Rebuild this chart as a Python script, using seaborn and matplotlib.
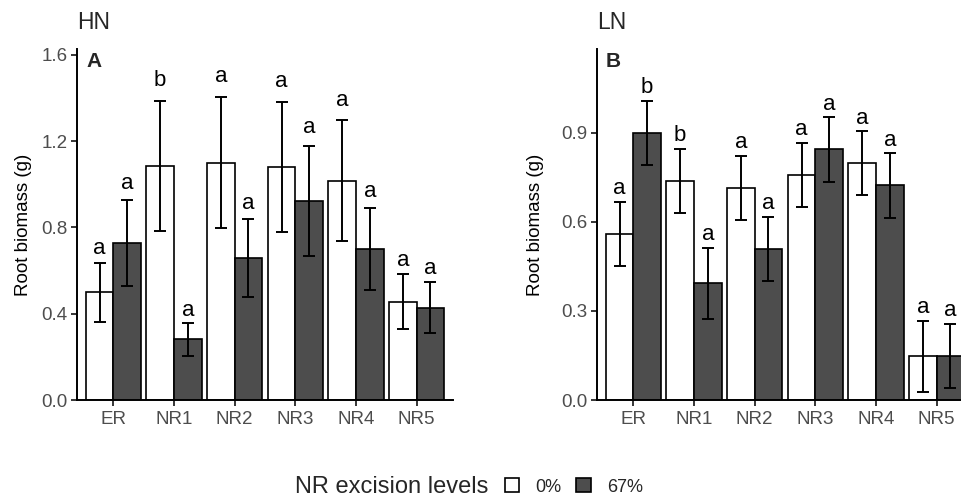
import pandas as pd
import matplotlib
matplotlib.use('Agg')
import matplotlib.pyplot as plt
from matplotlib.patches import Patch
import seaborn as sns

roots = ['ER', 'NR1', 'NR2', 'NR3', 'NR4', 'NR5']
levels = ['0%', '67%']

# HN panel
hn_mean_0 = [0.50, 1.085, 1.10, 1.08, 1.017, 0.456]
hn_se_0 = [0.137, 0.30, 0.305, 0.30, 0.28, 0.127]
hn_mean_67 = [0.728, 0.281, 0.659, 0.921, 0.702, 0.428]
hn_se_67 = [0.20, 0.078, 0.18, 0.255, 0.19, 0.117]
hn_letters_0 = ['a', 'b', 'a', 'a', 'a', 'a']
hn_letters_67 = ['a', 'a', 'a', 'a', 'a', 'a']

# LN panel
ln_mean_0 = [0.559, 0.737, 0.713, 0.757, 0.797, 0.147]
ln_se_0 = [0.108, 0.107, 0.108, 0.107, 0.107, 0.12]
ln_mean_67 = [0.898, 0.393, 0.507, 0.843, 0.722, 0.147]
ln_se_67 = [0.108, 0.12, 0.108, 0.108, 0.108, 0.108]
ln_letters_0 = ['a', 'b', 'a', 'a', 'a', 'a']
ln_letters_67 = ['b', 'a', 'a', 'a', 'a', 'a']

colors = {'0%': 'white', '67%': '#4D4D4D'}

sns.set_theme(style='ticks')
plt.rcParams['font.family'] = ['Liberation Sans', 'DejaVu Sans']


def make_df(m0, s0, m67, s67, l0, l67):
    return pd.DataFrame({
        'root': roots * 2,
        'level': ['0%'] * 6 + ['67%'] * 6,
        'mean': m0 + m67,
        'se': s0 + s67,
        'letter': l0 + l67,
    })


def draw_panel(ax, df, ymax, yticks, tag, off_a, off_b, label_x):
    sns.barplot(data=df, x='root', y='mean', hue='level', order=roots,
                hue_order=levels, palette=colors, edgecolor='black',
                linewidth=1.2, width=0.91, errorbar=None, ax=ax, legend=False)
    for cont, lev in zip(ax.containers, levels):
        sub = df[df['level'] == lev].set_index('root').loc[roots]
        xs = [b.get_x() + b.get_width() / 2 for b in cont]
        ax.errorbar(xs, sub['mean'], yerr=sub['se'], fmt='none', ecolor='black',
                    elinewidth=1.4, capsize=4.3, capthick=1.4, zorder=3)
        for x, m, s, let in zip(xs, sub['mean'], sub['se'], sub['letter']):
            top = m + s
            ax.text(x, top + off_a + off_b * top, let, ha='center', va='baseline',
                    fontsize=16, color='black')
    ax.set_xlim(-0.6, 5.6)
    ax.set_ylim(0, ymax)
    ax.set_yticks(yticks)
    ax.set_yticklabels([f'{t:.1f}' for t in yticks])
    ax.set_xlabel('')
    ax.set_ylabel('Root biomass (g)', fontsize=13.5, color='black')
    ax.yaxis.set_label_coords(label_x, 0.5)
    ax.tick_params(axis='both', labelsize=13.5, labelcolor='#4D4D4D', color='black',
                   length=4, width=1.1)
    ax.tick_params(axis='x', pad=4)
    ax.tick_params(axis='y', pad=3)
    sns.despine(ax=ax)
    for sp in ['left', 'bottom']:
        ax.spines[sp].set_linewidth(1.4)
        ax.spines[sp].set_color('black')
    ax.text(0.024, 0.949, tag, transform=ax.transAxes, fontsize=15,
            fontweight='bold', va='baseline', ha='left')


fig = plt.figure(figsize=(9.62, 4.98), dpi=100)
W, H = 962, 498
ax1 = fig.add_axes([77 / W, 98 / H, 376 / W, 351 / H])
ax2 = fig.add_axes([597 / W, 98 / H, 376 / W, 351 / H])

hn = make_df(hn_mean_0, hn_se_0, hn_mean_67, hn_se_67, hn_letters_0, hn_letters_67)
ln = make_df(ln_mean_0, ln_se_0, ln_mean_67, ln_se_67, ln_letters_0, ln_letters_67)

draw_panel(ax1, hn, 1.627, [0.0, 0.4, 0.8, 1.2, 1.6], 'A', 0.015, 0.04, -0.12)
draw_panel(ax2, ln, 1.181, [0.0, 0.3, 0.6, 0.9], 'B', 0.026, 0.0, -0.142)

fig.text(77 / W, 1 - 29 / H, 'HN', fontsize=16.5, va='baseline', ha='left')
fig.text(597 / W, 1 - 29 / H, 'LN', fontsize=16.5, va='baseline', ha='left')

# legend at bottom
fig.text(295 / W, 5 / H, 'NR excision levels', fontsize=17, va='baseline', ha='left')
handles = [Patch(facecolor=colors[l], edgecolor='black', linewidth=1.2) for l in levels]
fig.legend(handles, levels, loc='center left', bbox_to_anchor=(505 / W, 11 / H),
           ncol=2, frameon=False, fontsize=13, handlelength=0.8, handleheight=0.8,
           handletextpad=0.9, columnspacing=0.8, borderpad=0, borderaxespad=0)

fig.savefig('out.png', dpi=100)
